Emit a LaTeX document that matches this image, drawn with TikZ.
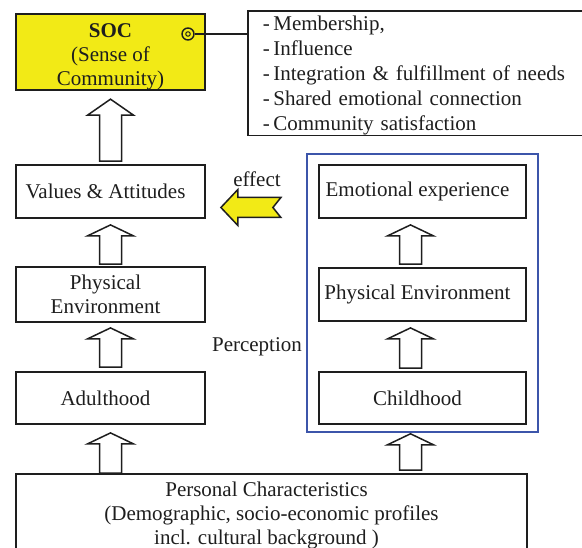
\documentclass[tikz,border=0pt]{standalone}
\usepackage{fontspec}
\setmainfont{Liberation Serif}
\usetikzlibrary{calc}
\definecolor{socyellow}{RGB}{242,234,22}
\definecolor{frameblue}{RGB}{60,85,170}
\definecolor{ink}{RGB}{30,30,30}
\newcommand{\ls}[1]{#1\hspace*{10pt}}
\newcommand{\dsh}{-\hspace{3.5pt}}
\tikzset{
  box/.style={draw=ink, line width=1.8pt, minimum width=189pt, align=center, inner sep=0pt, text=ink,
              font=\fontsize{21}{24}\selectfont},
  rbox/.style={box, minimum width=207pt},
  hollow/.style={draw=ink, line width=1.5pt, fill=white, to path={let \p1=(\tikztostart), \p2=(\tikztotarget) in
     (\x1-11pt,\y1) -- (\x1-11pt,\y2-#1) -- (\x1-23pt,\y2-#1) -- (\x1,\y2) -- (\x1+23pt,\y2-#1) -- (\x1+11pt,\y2-#1) -- (\x1+11pt,\y1) -- cycle}},
  hollow/.default=11pt,
  lbl/.style={text=ink, font=\fontsize{21}{24}\selectfont, inner sep=0pt}
}
\begin{document}
\begin{tikzpicture}[x=1pt,y=-1pt]
\useasboundingbox (0,0) rectangle (582,548);
% left column
\node[box, fill=socyellow, minimum height=74pt] (soc) at (110.5,52) {\rule{0pt}{24pt}{\bfseries SOC}\\(Sense of\\Community)};
\node[box, minimum height=53pt] (va) at (110.5,191.5) {\ls{Values \& Attitudes}};
\node[box, minimum height=55pt] (pe1) at (110.5,294.5) {\ls{Physical}\\\ls{Environment}};
\node[box, minimum height=52pt] (adult) at (110.5,398) {\ls{Adulthood}};
% right column
\node[draw=frameblue, line width=1.6pt, minimum width=231pt, minimum height=278pt, inner sep=0pt] (blue) at (422.5,293) {};
\node[rbox, minimum height=53pt] (emo) at (422.5,191.5) {\ls{Emotional experience}};
\node[rbox, minimum height=53pt] (pe2) at (422.5,294.5) {\ls{Physical Environment}};
\node[rbox, minimum height=52pt] (child) at (422.5,398) {\ls{Childhood}};
% bottom
\node[box, minimum width=511pt, minimum height=76pt] (pers) at (271.5,512)
  {\rule{0pt}{21pt}\ls{Personal Characteristics}\\\ls{(Demographic, socio-economic profiles}\\\ls{incl. cultural background )}};
% list box
\node[draw=ink, line width=1.8pt, anchor=north west, text width=310pt, inner xsep=15pt, inner ysep=0pt,
      minimum height=123pt, align=left, text=ink, font=\fontsize{21}{25}\selectfont] (list) at (247,10)
  {\rule{0pt}{20pt}\dsh Membership,\\\dsh Influence\\\dsh Integration \& fulfillment of needs\\\dsh Shared emotional connection\\\dsh Community satisfaction};
% bullet and link
\node[circle, draw=ink, line width=1.4pt, minimum size=12pt, inner sep=0pt] (bul) at (188,34) {};
\node[circle, draw=ink, line width=1pt, minimum size=4.5pt, inner sep=0pt] (bulin) at (bul.center) {};
\draw[ink, line width=1.8pt] (bul.east) -- (bul.east -| list.west);
% hollow arrows
\draw[hollow=16pt] ($(va.north)+(0,-3)$) to ($(soc.south)+(0,8)$);
\draw[hollow] ($(pe1.north)+(0,-2)$) to ($(va.south)+(0,6)$);
\draw[hollow] ($(adult.north)+(0,-4)$) to ($(pe1.south)+(0,5)$);
\draw[hollow] ($(pers.north -| adult.south)+(0,0)$) to ($(adult.south)+(0,8)$);
\draw[hollow] ($(pe2.north)+(-12,-3)$) to ($(emo.south)+(-12,6)$);
\draw[hollow] ($(child.north)+(-12,-3)$) to ($(pe2.south)+(-12,6)$);
\draw[hollow] ($(pers.north -| blue.south)+(-12,-3)$) to ($(blue.south)+(-12,1)$);
% effect arrow
\coordinate (efftip) at ($(va.east)+(15,16)$);
\fill[socyellow, draw=ink, line width=1.5pt, line join=miter]
  (efftip) -- ++(17,-18) -- ++(0,8) -- ++(43,0) -- ++(-8,10) -- ++(8,10) -- ++(-43,0) -- ++(0,8) -- cycle;
\node[lbl] (eff) at (257,179) {effect};
\node[lbl] (perc) at (257,347) {Perception};
\end{tikzpicture}
\end{document}
